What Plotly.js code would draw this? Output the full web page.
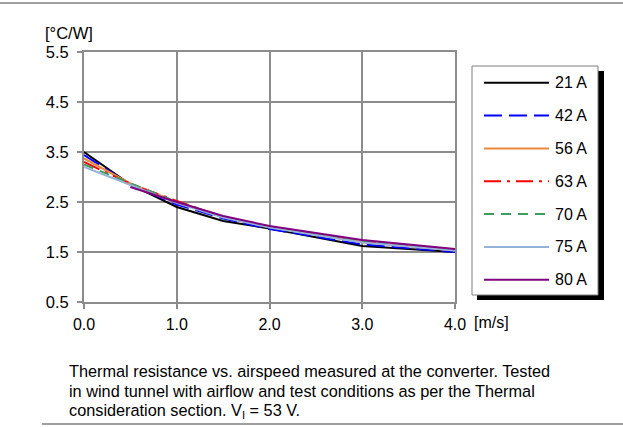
<!DOCTYPE html>
<html>
<head>
<meta charset="utf-8">
<script src="https://cdn.plot.ly/plotly-3.0.1.min.js"></script>
<style>
  html, body { margin: 0; padding: 0; background: #fff; }
  #chart { width: 623px; height: 427px; }
</style>
</head>
<body>
<div id="chart"></div>
<script>
// Airspeed [m/s]
const airspeed = [0, 0.5, 1.0, 1.5, 2.0, 3.0, 4.0];

// Thermal resistance [°C/W] per output current
const r21 = [3.50, 2.85, 2.40, 2.12, 1.97, 1.62, 1.50];
const r42 = [3.44, 2.85, 2.45, 2.17, 1.96, 1.65, 1.50];
const r56 = [3.37, 2.87, 2.50, 2.20, 2.00, 1.70, 1.53];
const r63 = [3.30, 2.86, 2.52, 2.20, 2.00, 1.70, 1.54];
const r70 = [3.25, 2.87, 2.50, 2.21, 2.00, 1.71, 1.55];
const r75 = [3.20, 2.84, 2.48, 2.19, 1.99, 1.69, 1.53];
const r80 = [null, 2.80, 2.50, 2.22, 2.02, 1.74, 1.56];

const seriesNames = ['21 A', '42 A', '56 A', '63 A', '70 A', '75 A', '80 A'];
const seriesValues = [r21, r42, r56, r63, r70, r75, r80];
const seriesColors = ['#000000', '#0000ff', '#e8893c', '#ff0000', '#3f9c5e', '#95b3d7', '#800080'];
const seriesDash = ['solid', '18px,7px', 'solid', '17px,6px,3px,6px', '10px,7px', 'solid', 'solid'];

const yTicks = [0.5, 1.5, 2.5, 3.5, 4.5, 5.5];
const xTicks = [0, 1, 2, 3, 4];

const captionLines = [
  'Thermal resistance vs. airspeed measured at the converter. Tested',
  'in wind tunnel with airflow and test conditions as per the Thermal',
  'consideration section. V<sub>I</sub> = 53 V.'
];

const FONT = 'Liberation Sans, Arial, Helvetica, sans-serif';
const FS = 16;
const GRID = '#8c8c8c';

// plot-area geometry in pixels
const W = 623, H = 427;
const L = 84, R = 455, T = 52, B = 302;
const px = x => (x - L) / (R - L);
const py = y => (B - y) / (B - T);

const traces = seriesNames.map((name, i) => ({
  type: 'scatter',
  mode: 'lines',
  name: name,
  x: airspeed,
  y: seriesValues[i],
  connectgaps: false,
  line: { color: seriesColors[i], width: 2, dash: seriesDash[i] },
  showlegend: false,
  hoverinfo: 'x+y+name'
}));

const shapes = [];
const annotations = [];

// frame lines across the page
shapes.push({ type: 'line', xref: 'paper', yref: 'paper', x0: px(0), x1: px(W), y0: py(3), y1: py(3),
  line: { color: '#7f7f7f', width: 1.5 } });
shapes.push({ type: 'line', xref: 'paper', yref: 'paper', x0: px(42), x1: px(W), y0: py(424), y1: py(424),
  line: { color: '#7f7f7f', width: 1.5 } });

// legend box with drop shadow
const lgX0 = 472, lgX1 = 598, lgY0 = 66, lgY1 = 295;
shapes.push({ type: 'rect', xref: 'paper', yref: 'paper', x0: px(lgX0 + 5), x1: px(lgX1 + 6), y0: py(lgY0 + 5), y1: py(lgY1 + 5),
  fillcolor: '#000000', line: { width: 0 } });
shapes.push({ type: 'rect', xref: 'paper', yref: 'paper', x0: px(lgX0), x1: px(lgX1), y0: py(lgY0), y1: py(lgY1),
  fillcolor: '#ffffff', line: { color: '#7f7f7f', width: 1 } });

const rowTop = 82.7, rowGap = 32.85;
seriesNames.forEach((name, i) => {
  const yRow = rowTop + i * rowGap;
  shapes.push({ type: 'line', xref: 'paper', yref: 'paper', x0: px(484), x1: px(549), y0: py(yRow), y1: py(yRow),
    line: { color: seriesColors[i], width: 2, dash: seriesDash[i] } });
  annotations.push({ xref: 'paper', yref: 'paper', x: px(553), y: py(yRow), xanchor: 'left', yanchor: 'middle',
    text: name, showarrow: false, font: { family: FONT, size: FS, color: '#000' } });
});

// axis unit labels
annotations.push({ xref: 'paper', yref: 'paper', x: px(43), y: py(33), xanchor: 'left', yanchor: 'middle',
  text: '[°C/W]', showarrow: false, font: { family: FONT, size: 16.5, color: '#000' } });
annotations.push({ xref: 'paper', yref: 'paper', x: px(472), y: py(322), xanchor: 'left', yanchor: 'middle',
  text: '[m/s]', showarrow: false, font: { family: FONT, size: FS, color: '#000' } });

// caption, one annotation per line
const captionY = [371, 391, 410.5];
captionLines.forEach((line, i) => {
  annotations.push({ xref: 'paper', yref: 'paper', x: px(67), y: py(captionY[i]), xanchor: 'left', yanchor: 'middle',
    align: 'left', text: line, showarrow: false, font: { family: FONT, size: 16.3, color: '#000' } });
});

const axisCommon = {
  showgrid: true, gridcolor: GRID, gridwidth: 2,
  showline: true, mirror: true, linecolor: GRID, linewidth: 2,
  zeroline: false,
  ticks: 'outside', ticklen: 5, tickwidth: 2, tickcolor: GRID,
  tickfont: { family: FONT, size: FS, color: '#000' },
  tickformat: '.1f',
  fixedrange: true
};

const layout = {
  width: W, height: H,
  margin: { l: L, r: W - R, t: T, b: H - B, pad: 0 },
  paper_bgcolor: '#ffffff',
  plot_bgcolor: '#ffffff',
  showlegend: false,
  xaxis: Object.assign({}, axisCommon, { range: [0, 4], tickmode: 'array', tickvals: xTicks, ticklabelstandoff: 2 }),
  yaxis: Object.assign({}, axisCommon, { range: [0.5, 5.5], tickmode: 'array', tickvals: yTicks, ticklabelstandoff: 5,
    tickfont: { family: FONT, size: 16.5, color: '#000' } }),
  shapes: shapes,
  annotations: annotations
};

Plotly.newPlot('chart', traces, layout, { displayModeBar: false, staticPlot: true });
</script>
</body>
</html>
